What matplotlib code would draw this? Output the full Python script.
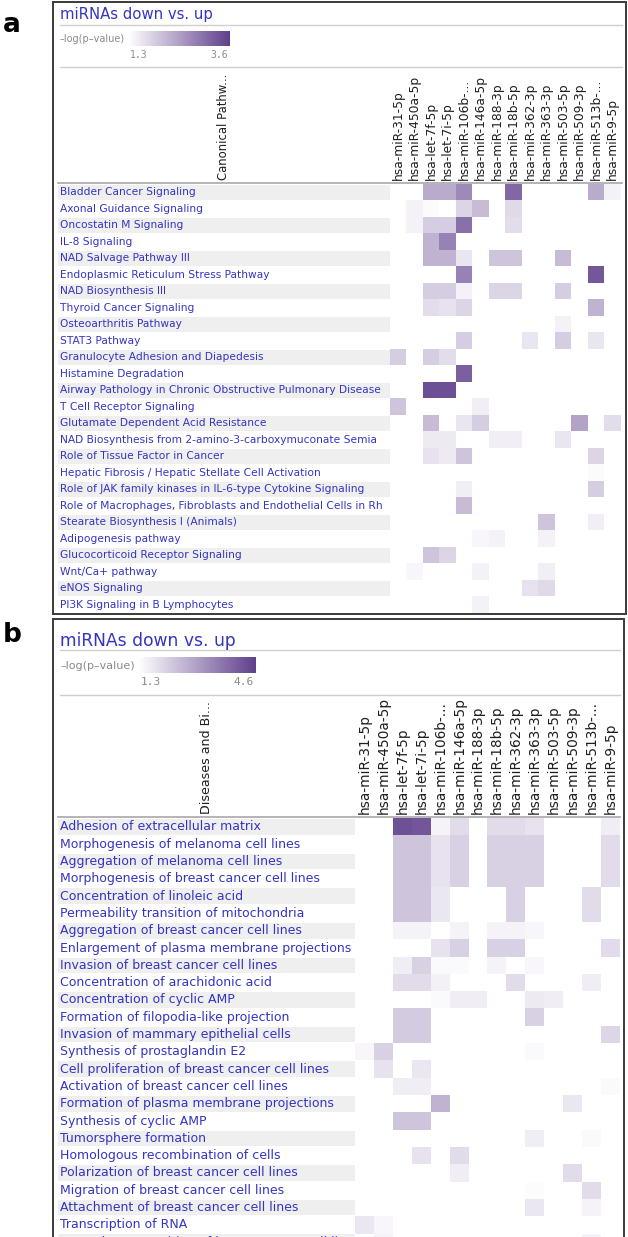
import numpy as np
import matplotlib.pyplot as plt
from matplotlib.colors import LinearSegmentedColormap, Normalize
from matplotlib.cm import ScalarMappable
from matplotlib.lines import Line2D
from matplotlib.patches import Rectangle

W, H = 628, 1237

# ---- data -------------------------------------------------------------
mirnas = ['hsa-miR-31-5p', 'hsa-miR-450a-5p', 'hsa-let-7f-5p', 'hsa-let-7i-5p',
          'hsa-miR-106b-...', 'hsa-miR-146a-5p', 'hsa-miR-188-3p', 'hsa-miR-18b-5p',
          'hsa-miR-362-3p', 'hsa-miR-363-3p', 'hsa-miR-503-5p', 'hsa-miR-509-3p',
          'hsa-miR-513b-...', 'hsa-miR-9-5p']

pathways = ['Bladder Cancer Signaling', 'Axonal Guidance Signaling',
            'Oncostatin M Signaling', 'IL-8 Signaling', 'NAD Salvage Pathway III',
            'Endoplasmic Reticulum Stress Pathway', 'NAD Biosynthesis III',
            'Thyroid Cancer Signaling', 'Osteoarthritis Pathway', 'STAT3 Pathway',
            'Granulocyte Adhesion and Diapedesis', 'Histamine Degradation',
            'Airway Pathology in Chronic Obstructive Pulmonary Disease',
            'T Cell Receptor Signaling', 'Glutamate Dependent Acid Resistance',
            'NAD Biosynthesis from 2-amino-3-carboxymuconate Semia',
            'Role of Tissue Factor in Cancer',
            'Hepatic Fibrosis / Hepatic Stellate Cell Activation',
            'Role of JAK family kinases in IL-6-type Cytokine Signaling',
            'Role of Macrophages, Fibroblasts and Endothelial Cells in Rh',
            'Stearate Biosynthesis I (Animals)', 'Adipogenesis pathway',
            'Glucocorticoid Receptor Signaling', 'Wnt/Ca+ pathway', 'eNOS Signaling',
            'PI3K Signaling in B Lymphocytes']

# -log(p-value) per pathway, {miRNA column: value}
pathway_scores = [
    {2: 2.3, 3: 2.3, 4: 2.7, 7: 3.1, 12: 2.3, 13: 1.45},
    {1: 1.45, 2: 1.35, 4: 1.8, 5: 2.1, 7: 1.75},
    {1: 1.45, 2: 1.9, 3: 1.9, 4: 3.0, 7: 1.7},
    {2: 2.2, 3: 2.8},
    {2: 2.2, 3: 2.2, 4: 1.6, 6: 2.0, 7: 2.0, 10: 2.1},
    {4: 2.8, 12: 3.3},
    {2: 1.9, 3: 1.9, 4: 1.45, 6: 1.8, 7: 1.8, 10: 1.9},
    {2: 1.7, 3: 1.65, 4: 1.8, 12: 2.2},
    {10: 1.45},
    {4: 1.9, 8: 1.6, 10: 1.9, 12: 1.6},
    {0: 1.9, 2: 1.9, 3: 1.7},
    {4: 3.2},
    {2: 3.4, 3: 3.4},
    {0: 2.0, 5: 1.5},
    {2: 2.1, 4: 1.6, 5: 1.9, 11: 2.4, 13: 1.7},
    {2: 1.55, 3: 1.55, 6: 1.5, 7: 1.5, 10: 1.6},
    {2: 1.65, 3: 1.55, 4: 2.0, 12: 1.8},
    {12: 1.35},
    {4: 1.5, 12: 1.9},
    {4: 2.1},
    {9: 2.0, 12: 1.5},
    {5: 1.4, 6: 1.45, 9: 1.45},
    {2: 2.0, 3: 1.8},
    {1: 1.4, 5: 1.45, 9: 1.5},
    {8: 1.65, 9: 1.75},
    {5: 1.45},
]

diseases = ['Adhesion of extracellular matrix', 'Morphogenesis of melanoma cell lines',
            'Aggregation of melanoma cell lines', 'Morphogenesis of breast cancer cell lines',
            'Concentration of linoleic acid', 'Permeability transition of mitochondria',
            'Aggregation of breast cancer cell lines',
            'Enlargement of plasma membrane projections',
            'Invasion of breast cancer cell lines', 'Concentration of arachidonic acid',
            'Concentration of cyclic AMP', 'Formation of filopodia-like projection',
            'Invasion of mammary epithelial cells', 'Synthesis of prostaglandin E2',
            'Cell proliferation of breast cancer cell lines',
            'Activation of breast cancer cell lines',
            'Formation of plasma membrane projections', 'Synthesis of cyclic AMP',
            'Tumorsphere formation', 'Homologous recombination of cells',
            'Polarization of breast cancer cell lines',
            'Migration of breast cancer cell lines',
            'Attachment of breast cancer cell lines', 'Transcription of RNA',
            'G1/S phase transition of breast cancer cell lines']

disease_scores = [
    {2: 4.3, 3: 4.2, 4: 1.5, 5: 1.9, 7: 1.9, 8: 1.9, 9: 1.8, 13: 1.6},
    {2: 2.3, 3: 2.3, 4: 1.8, 5: 2.1, 7: 2.1, 8: 2.1, 9: 2.1, 13: 1.9},
    {2: 2.3, 3: 2.3, 4: 1.8, 5: 2.1, 7: 2.1, 8: 2.1, 9: 2.1, 13: 1.9},
    {2: 2.3, 3: 2.3, 4: 1.8, 5: 2.1, 7: 2.1, 8: 2.1, 9: 2.1, 13: 1.9},
    {2: 2.3, 3: 2.3, 4: 1.7, 8: 2.1, 12: 1.9},
    {2: 2.3, 3: 2.3, 4: 1.7, 8: 2.1, 12: 1.9},
    {2: 1.5, 3: 1.5, 5: 1.5, 7: 1.5, 8: 1.5, 9: 1.45},
    {4: 1.8, 5: 2.1, 7: 2.1, 8: 2.1, 13: 1.9},
    {2: 1.6, 3: 2.1, 4: 1.4, 5: 1.4, 7: 1.5, 9: 1.45},
    {2: 1.9, 3: 1.9, 4: 1.55, 8: 1.9, 12: 1.6},
    {4: 1.4, 5: 1.6, 6: 1.6, 9: 1.65, 10: 1.6},
    {2: 2.2, 3: 2.2, 9: 2.1},
    {2: 2.2, 3: 2.2, 13: 2.0},
    {0: 1.45, 1: 2.1, 9: 1.4},
    {1: 1.8, 3: 1.7},
    {2: 1.6, 3: 1.6, 13: 1.4},
    {4: 2.6, 11: 1.7},
    {2: 2.3, 3: 2.3},
    {9: 1.6, 12: 1.4},
    {3: 1.8, 5: 1.9},
    {5: 1.6, 11: 1.9},
    {9: 1.35, 12: 1.9},
    {9: 1.7, 12: 1.5},
    {0: 1.7, 1: 1.45},
    {1: 1.5, 12: 1.5},
]

# ---- style ------------------------------------------------------------
blue = '#3434c4'
cmap = LinearSegmentedColormap.from_list('ipa', ['#ffffff', '#5f3f8c'])

fig = plt.figure(figsize=(W / 100, H / 100), dpi=100)


def fx(x):
    return x / W


def fy(y):
    return 1 - y / H


def rect(x0, y0, x1, y1):
    return [x0 / W, 1 - y1 / H, (x1 - x0) / W, (y1 - y0) / H]


def hline(y, x0, x1, color='#cfcfcf', lw=1.0):
    fig.add_artist(Line2D([fx(x0), fx(x1)], [fy(y), fy(y)], color=color, lw=lw))


def to_matrix(scores, ncol):
    m = np.full((len(scores), ncol), np.nan)
    for i, row in enumerate(scores):
        for j, v in row.items():
            m[i, j] = v
    return m


def panel(p):
    x0, y0, x1, y1 = p['box']
    fig.add_artist(Rectangle((fx(x0), fy(y1)), fx(x1) - fx(x0), fy(y0) - fy(y1),
                             fill=False, ec='#3a3a3a', lw=1.4))
    fig.text(fx(3), fy(p['letter_y']), p['letter'], fontsize=19, fontweight='bold',
             va='baseline', ha='left')
    fig.text(fx(60), fy(p['title_y']), 'miRNAs down vs. up', fontsize=p['title_fs'],
             color=blue, va='center', ha='left')
    hline(p['rule1'], 60, x1 - 4)

    # legend
    fig.text(fx(60), fy(p['leg_y']), '\u2013log(p\u2013value)', fontsize=p['leg_fs'],
             color='#8a8a8a', va='center', ha='left')
    cx0, cy0, cx1, cy1 = p['cbar']
    cax = fig.add_axes(rect(cx0, cy0, cx1, cy1))
    norm = Normalize(vmin=1.3, vmax=p['vmax'])
    cb = fig.colorbar(ScalarMappable(norm=norm, cmap=cmap), cax=cax,
                      orientation='horizontal')
    cb.outline.set_visible(False)
    cax.set_xticks([])
    cax.text(0.02, -0.25, '1.3', transform=cax.transAxes, ha='left', va='top',
             fontsize=p['leg_fs'], color='#8a8a8a', family='DejaVu Sans Mono')
    cax.text(0.98, -0.25, '%.1f' % p['vmax'], transform=cax.transAxes, ha='right',
             va='top', fontsize=p['leg_fs'], color='#8a8a8a', family='DejaVu Sans Mono')
    hline(p['rule2'], 60, x1 - 4)

    # grid
    labels, mat = p['labels'], p['mat']
    n = len(labels)
    hx0, hx1, hy0, rh = p['heat_x0'], p['heat_x1'], p['heat_y0'], p['row_h']
    hy1 = hy0 + n * rh

    axl = fig.add_axes(rect(58, hy0, hx0, hy1))
    axl.set_xlim(0, 1)
    axl.set_ylim(n - 0.5, -0.5)
    axl.axis('off')
    for i, lab in enumerate(labels):
        if i % 2 == 0:
            axl.axhspan(i - 0.45, i + 0.45, color='#efefef', lw=0)
        axl.text(0.006, i, lab, fontsize=p['row_fs'], color=blue, va='center',
                 ha='left', clip_on=True)

    ax = fig.add_axes(rect(hx0, hy0, hx1, hy1))
    ax.imshow(np.ma.masked_invalid(mat), cmap=cmap, norm=norm, aspect='auto',
              interpolation='nearest')
    ax.set_ylim(n - 0.5, -0.5)
    ax.set_xticks(np.arange(len(mirnas)))
    ax.set_xticklabels(mirnas, rotation=90, fontsize=p['col_fs'], color='#1e1e1e')
    ax.tick_params(axis='x', top=True, labeltop=True, bottom=False,
                   labelbottom=False, length=0, pad=3)
    ax.set_yticks([])
    for s in ax.spines.values():
        s.set_visible(False)

    hline(hy0 - 1, 58, x1 - 4, color='#a8a8a8', lw=1.2)
    fig.text(fx(p['head_x']), fy(hy0 - 4), p['head'], rotation=90,
             fontsize=p['head_fs'], color='#1e1e1e', ha='center', va='bottom')


panel(dict(box=(53, 2, 626, 614), letter='a', letter_y=32,
           title_y=15, title_fs=10.7, rule1=25,
           leg_y=39, leg_fs=7, cbar=(128, 31, 230, 46), vmax=3.6, rule2=67,
           labels=pathways, mat=to_matrix(pathway_scores, len(mirnas)),
           heat_x0=390, heat_x1=621, heat_y0=184, row_h=16.5,
           row_fs=7.7, col_fs=8.8, head='Canonical Pathw...', head_x=224,
           head_fs=8.4))

panel(dict(box=(53, 619, 624, 1250), letter='b', letter_y=642,
           title_y=641, title_fs=12.3, rule1=650,
           leg_y=666, leg_fs=8, cbar=(138, 657, 256, 673), vmax=4.6, rule2=695,
           labels=diseases, mat=to_matrix(disease_scores, len(mirnas)),
           heat_x0=355.4, heat_x1=620, heat_y0=818.3, row_h=17.3,
           row_fs=9.0, col_fs=9.8, head='Diseases and Bi...', head_x=207,
           head_fs=9.1))

fig.savefig('out.png', dpi=100)
